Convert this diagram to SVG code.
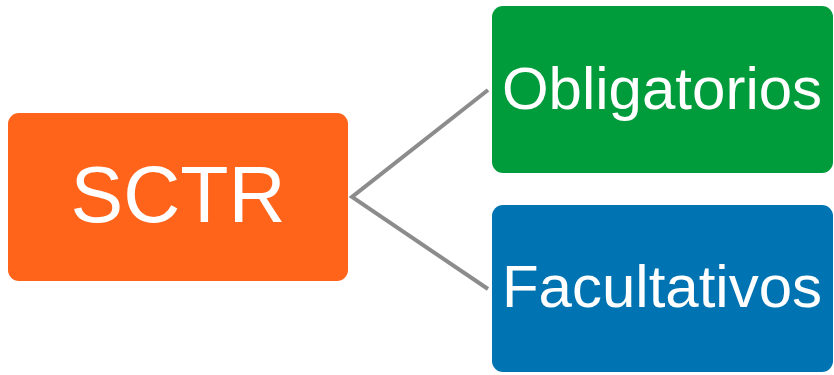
<svg xmlns="http://www.w3.org/2000/svg" width="834" height="375" viewBox="0 0 834 375">
<style>
.lbl{font-family:"Liberation Sans",Arial,sans-serif;fill:#fff;text-anchor:middle}
.conn{stroke:#8c8c8c;stroke-width:4;fill:none}
</style>
<rect width="834" height="375" fill="#fff"/>
<g id="connectors">
<path class="conn" d="M488,90 L352,197 L488,289"/>
</g>
<g id="sctr">
<rect x="8" y="113" width="340" height="168" rx="11" fill="#FF641A"/>
<text class="lbl" x="178" y="222" font-size="79">SCTR</text>
</g>
<g id="obligatorios">
<rect x="492" y="6" width="341" height="167" rx="11" fill="#009B3A"/>
<text class="lbl" x="662" y="109" font-size="60">Obligatorios</text>
</g>
<g id="facultativos">
<rect x="492" y="205" width="341" height="167" rx="11" fill="#0074B2"/>
<text class="lbl" x="662" y="307" font-size="60">Facultativos</text>
</g>
</svg>
